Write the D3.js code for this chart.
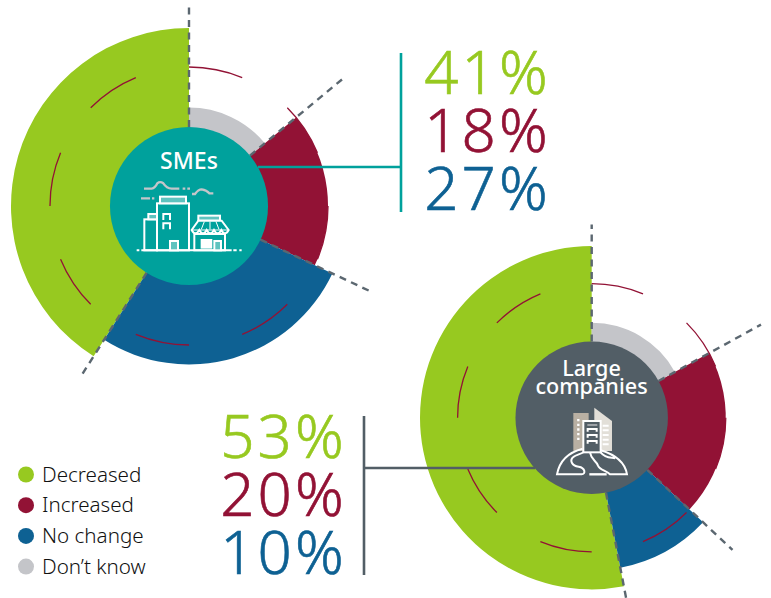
<!DOCTYPE html>
<html>
<head>
<meta charset="utf-8">
<script src="https://cdn.jsdelivr.net/npm/d3@7"></script>
<style>
  html, body { margin: 0; padding: 0; background: #fff; }
  text { font-family: "Noto Sans", sans-serif; }
</style>
</head>
<body>
<div id="chart"></div>
<script>
const categories = ['Decreased', 'Increased', 'No change', 'Don\u2019t know'];
const smeValues = [41, 18, 27, 14];
const largeValues = [53, 20, 10, 17];
const sliceOrder = ['Don\u2019t know', 'Increased', 'No change', 'Decreased'];

const W = 771;
const H = 598;
const colors = d3.scaleOrdinal(categories, ['#97C920', '#921235', '#0E6193', '#C4C5C9']);
// how far each wedge reaches, as a share of the panel radius
const reach = d3.scaleOrdinal(categories, [1, 0.781, 0.89, 0.553]);
const slate = '#525E66';
const teal = '#00A19C';

const svg = d3.select('#chart').append('svg')
  .attr('width', W)
  .attr('height', H)
  .attr('viewBox', `0 0 ${W} ${H}`)
  .style('display', 'block');

const pie = d3.pie()
  .value(d => d.value)
  .sort((a, b) => sliceOrder.indexOf(a.cat) - sliceOrder.indexOf(b.cat));

function drawPanel(cx, cy, radius, values, hubColor) {
  const rows = categories.map((cat, i) => ({ cat, value: values[i] }));
  const slices = pie(rows);
  const inner = radius * 0.444;
  const g = svg.append('g').attr('transform', `translate(${cx},${cy})`);
  const arc = d3.arc().innerRadius(inner - 2).padAngle(0);

  g.selectAll('.slice')
    .data(slices)
    .enter()
    .append('path')
    .attr('class', 'slice')
    .attr('d', d => arc({ ...d, outerRadius: radius * reach(d.data.cat) }))
    .attr('fill', d => colors(d.data.cat));

  // dashed rays on the slice boundaries
  g.selectAll('.ray')
    .data(slices)
    .enter()
    .append('line')
    .attr('class', 'ray')
    .attr('x1', d => inner * Math.sin(d.startAngle))
    .attr('y1', d => -inner * Math.cos(d.startAngle))
    .attr('x2', d => radius * 1.125 * Math.sin(d.startAngle))
    .attr('y2', d => -radius * 1.125 * Math.cos(d.startAngle))
    .attr('stroke', '#5B6770')
    .attr('stroke-width', 2.4)
    .attr('stroke-dasharray', '7,5.5');

  // thin broken ring, one stroke every eighth of the circle
  const ringArc = d3.arc()
    .innerRadius(radius * 0.781)
    .outerRadius(radius * 0.781);
  g.selectAll('.ring')
    .data(d3.range(0, 8))
    .enter()
    .append('path')
    .attr('class', 'ring')
    .attr('d', i => ringArc({
      startAngle: i * Math.PI / 4,
      endAngle: i * Math.PI / 4 + Math.PI / 8
    }))
    .attr('fill', 'none')
    .attr('stroke', colors('Increased'))
    .attr('stroke-width', 1.3);

  return { g, inner, hubColor };
}

function drawHub(panel) {
  panel.g.append('circle')
    .attr('r', panel.inner)
    .attr('fill', panel.hubColor);
}

function drawValues(values, rightX, firstBaseline) {
  svg.selectAll(null)
    .data(categories.slice(0, 3))
    .enter()
    .append('text')
    .attr('x', rightX)
    .attr('y', (d, i) => firstBaseline + i * 58)
    .attr('text-anchor', 'end')
    .attr('font-size', 60)
    .attr('font-weight', 300)
    .attr('letter-spacing', 3.2)
    .attr('fill', d => colors(d))
    .attr('stroke', d => colors(d))
    .attr('stroke-width', 0.6)
    .text((d, i) => values[i] + '%');
}

const smePanel = drawPanel(189, 206, 178, smeValues, teal);
const largePanel = drawPanel(591.7, 417.7, 171.7, largeValues, slate);

// connectors from hub to the value block
const connectors = [
  { color: teal, d: 'M258,167H401M401,53V212' },
  { color: slate, d: 'M535,468H364M364,416V575' }
];
svg.selectAll('.connector')
  .data(connectors)
  .enter()
  .append('path')
  .attr('class', 'connector')
  .attr('d', d => d.d)
  .attr('fill', 'none')
  .attr('stroke', d => d.color)
  .attr('stroke-width', 2.6);

drawHub(smePanel);
drawHub(largePanel);

drawValues(smeValues, 551, 94);
drawValues(largeValues, 347, 458);

// legend
const legend = svg.selectAll('.legend')
  .data(categories)
  .enter()
  .append('g')
  .attr('class', 'legend')
  .attr('transform', (d, i) => `translate(26,${474.5 + i * 30.7})`);

legend.append('circle')
  .attr('r', 8)
  .attr('fill', d => colors(d));

legend.append('text')
  .attr('x', 16)
  .attr('y', 7)
  .attr('font-size', 20.6)
  .attr('font-weight', 300)
  .attr('fill', '#111')
  .text(d => d);

// hub titles
svg.append('text')
  .attr('x', 189).attr('y', 169)
  .attr('text-anchor', 'middle')
  .attr('font-size', 23)
  .attr('font-weight', 500)
  .attr('fill', '#fff')
  .text('SMEs');

svg.selectAll(null)
  .data(['Large', 'companies'])
  .enter()
  .append('text')
  .attr('x', 591.5)
  .attr('y', (d, i) => 375.5 + i * 18.5)
  .attr('text-anchor', 'middle')
  .attr('font-size', 21.6)
  .attr('font-weight', 500)
  .attr('fill', '#fff')
  .text(d => d);

// SME icon, traced at 3x
const smeIcon = svg.append('g')
  .attr('transform', 'translate(110,130) scale(0.3333)')
  .attr('fill', 'none')
  .attr('stroke', '#fff')
  .attr('stroke-width', 6);

smeIcon.append('path')
  .attr('stroke', '#C4C5C9')
  .attr('stroke-width', 7)
  .attr('d', 'M102,176H125Q135,175 142,160Q150,153 160,160Q170,175 185,176H208M218,176H226M232,176H240M246,192H255Q265,178 275,178Q290,180 298,190H310M93,205H120M126,205H133');
smeIcon.append('path')
  .attr('d', 'M80,361H88M94,361H365M370,361H380M388,361H395');
smeIcon.append('rect').attr('x', 141).attr('y', 220).attr('width', 96).attr('height', 141);
smeIcon.append('rect').attr('x', 150).attr('y', 200).attr('width', 78).attr('height', 20).attr('fill', '#5FC3BF');
smeIcon.append('rect').attr('x', 103).attr('y', 268).attr('width', 38).attr('height', 93);
smeIcon.append('rect').attr('x', 115).attr('y', 252).attr('width', 26).attr('height', 16).attr('fill', '#5FC3BF');
smeIcon.append('path').attr('d', 'M160,270V252H180V270M160,298V280H180V298');
smeIcon.append('rect').attr('x', 180).attr('y', 333).attr('width', 24).attr('height', 28).attr('fill', '#5FC3BF');
smeIcon.append('rect').attr('x', 253).attr('y', 312).attr('width', 92).attr('height', 49);
smeIcon.append('rect').attr('x', 265).attr('y', 257).attr('width', 65).attr('height', 15).attr('fill', '#5FC3BF');
smeIcon.append('path')
  .attr('fill', '#00A19C')
  .attr('d', 'M265,272H335L356,300Q345,320 334,300Q323,320 312,300Q301,320 290,300Q279,320 268,300Q256,320 245,300Z');
smeIcon.append('path').attr('stroke-width', 3).attr('d', 'M245,300H356M283,275L274,298M300,275V298M318,275L327,298');
smeIcon.append('rect').attr('x', 275).attr('y', 330).attr('width', 29).attr('height', 23).attr('fill', '#fff');
smeIcon.append('rect').attr('x', 313).attr('y', 333).attr('width', 20).attr('height', 28).attr('fill', '#5FC3BF');

// large company icon, traced at 3x
const largeIcon = svg.append('g')
  .attr('transform', 'translate(510,345) scale(0.3333)')
  .attr('fill', 'none')
  .attr('stroke', '#fff')
  .attr('stroke-width', 6);

largeIcon.append('path')
  .attr('stroke', 'none')
  .attr('fill', '#E2DFD8')
  .attr('d', 'M253,188L306,228V318H253Z');
largeIcon.append('path')
  .attr('stroke', 'none')
  .attr('fill', '#B9B0A3')
  .attr('d', 'M190,204H236V318H190Z');
largeIcon.append('path')
  .attr('stroke', '#fff')
  .attr('stroke-width', 7)
  .attr('stroke-dasharray', '7,7')
  .attr('d', 'M205,222V290');
largeIcon.append('path')
  .attr('stroke', '#fff')
  .attr('stroke-width', 6)
  .attr('d', 'M278,242H296M278,256H296M278,270H296M278,284H296M278,298H296');
largeIcon.append('rect')
  .attr('x', 220).attr('y', 228).attr('width', 52).attr('height', 94)
  .attr('fill', slate);
largeIcon.append('path')
  .attr('stroke', '#C4C5C9')
  .attr('stroke-width', 4)
  .attr('d', 'M232,240H262');
largeIcon.append('path')
  .attr('d', 'M233,260V252H260V260M233,278V270H260V278M233,296V288H260V296');
largeIcon.append('path')
  .attr('d', 'M218,311C175,322 148,350 141,388H215C228,388 226,368 206,365C185,362 178,346 190,336C198,329 212,328 220,322M240,322C244,346 258,346 264,362C270,376 288,376 300,388H351C345,352 312,328 272,316M272,322C288,342 306,336 316,340');
largeIcon.append('path')
  .attr('stroke-width', 7)
  .attr('d', 'M238,388H290');
</script>
</body>
</html>
